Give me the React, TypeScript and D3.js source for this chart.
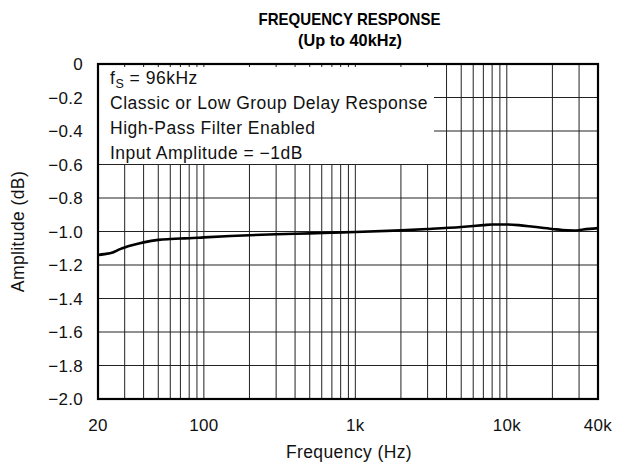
import React from "react";
import * as d3 from "d3";

const freqHz = [20, 22, 25, 28, 30, 35, 40, 50, 60, 70, 80, 100, 150, 200, 300, 500, 700, 1000, 2000, 3000, 5000, 7000, 8000, 10000, 12000, 15000, 20000, 25000, 28000, 32000, 40000];
const amplitudeDb = [-1.14, -1.135, -1.125, -1.105, -1.095, -1.078, -1.065, -1.05, -1.045, -1.042, -1.04, -1.035, -1.027, -1.022, -1.016, -1.011, -1.007, -1.003, -0.993, -0.985, -0.973, -0.962, -0.958, -0.958, -0.962, -0.972, -0.985, -0.993, -0.994, -0.988, -0.98];
const xTickValues = [20, 100, 1000, 10000, 40000];
const xTickLabels = ["20", "100", "1k", "10k", "40k"];
const yTickValues = [0, -0.2, -0.4, -0.6, -0.8, -1.0, -1.2, -1.4, -1.6, -1.8, -2.0];
const xGridValues = [30, 40, 50, 60, 70, 80, 90, 100, 200, 300, 400, 500, 600, 700, 800, 900, 1000, 2000, 3000, 4000, 5000, 6000, 7000, 8000, 9000, 10000, 20000, 30000];
const legendLines = ["= 96kHz", "Classic or Low Group Delay Response", "High-Pass Filter Enabled", "Input Amplitude = \u22121dB"];

const W = 623, H = 468;
const L = 98, R = 598, T = 64, B = 399;
const font = "'Liberation Sans', Arial, Helvetica, sans-serif";

export default function App() {
  const x = d3.scaleLog().domain([20, 40000]).range([L, R]);
  const y = d3.scaleLinear().domain([-2, 0]).range([B, T]);
  const line = d3.line<number>().x((_, i) => x(freqHz[i])).y((d) => y(d)).curve(d3.curveMonotoneX);
  const fmtY = (v: number) => (v === 0 ? "0" : "\u2212" + Math.abs(v).toFixed(1));
  return (
    <svg width={W} height={H} style={{ position: "absolute", left: 0, top: 0, background: "#fff" }} fontFamily={font}>
      <rect x={0} y={0} width={W} height={H} fill="#fff" />
      <text x={349.5} y={25} textAnchor="middle" fontWeight="bold" fontSize={17} textLength={182} lengthAdjust="spacingAndGlyphs">FREQUENCY RESPONSE</text>
      <text x={350} y={46} textAnchor="middle" fontWeight="bold" fontSize={17} textLength={104} lengthAdjust="spacingAndGlyphs">(Up to 40kHz)</text>
      {xGridValues.map((v) => (
        <line key={"gx" + v} x1={x(v)} x2={x(v)} y1={T} y2={B} stroke="#222" strokeWidth={1} />
      ))}
      {yTickValues.map((v) => (
        <line key={"gy" + v} x1={L} x2={R} y1={y(v)} y2={y(v)} stroke="#222" strokeWidth={1} />
      ))}
      <rect x={L + 1} y={T + 3} width={434 - L - 1} height={165 - T - 4} fill="#fff" />
      <line x1={L} x2={R} y1={y(-0.6)} y2={y(-0.6)} stroke="#222" strokeWidth={1} />
      <path d={line(amplitudeDb) || ""} fill="none" stroke="#000" strokeWidth={2.6} />
      <rect x={L} y={T} width={R - L} height={B - T} fill="none" stroke="#000" strokeWidth={2.2} />
      <g fontSize={17.5} fill="#111" letterSpacing={0.5}>
        <text x={110} y={84}>
          f<tspan fontSize={12.5} dy={4}>S</tspan><tspan dy={-4}> {legendLines[0]}</tspan>
        </text>
        {legendLines.slice(1).map((s, i) => (
          <text key={s} x={110} y={109 + i * 24.8}>{s}</text>
        ))}
      </g>
      <g fontSize={17} fill="#111" letterSpacing={0.3}>
        {yTickValues.map((v) => (
          <text key={"ty" + v} x={83} y={y(v) + 6} textAnchor="end">{fmtY(v)}</text>
        ))}
        {xTickValues.map((v, i) => (
          <text key={"tx" + v} x={x(v)} y={431} textAnchor="middle">{xTickLabels[i]}</text>
        ))}
      </g>
      <text x={349} y={458} textAnchor="middle" fontSize={17.5} letterSpacing={0.4} fill="#111">Frequency (Hz)</text>
      <text transform={`translate(24,${(T + B) / 2}) rotate(-90)`} textAnchor="middle" fontSize={17.5} letterSpacing={0.4} fill="#111">Amplitude (dB)</text>
    </svg>
  );
}
